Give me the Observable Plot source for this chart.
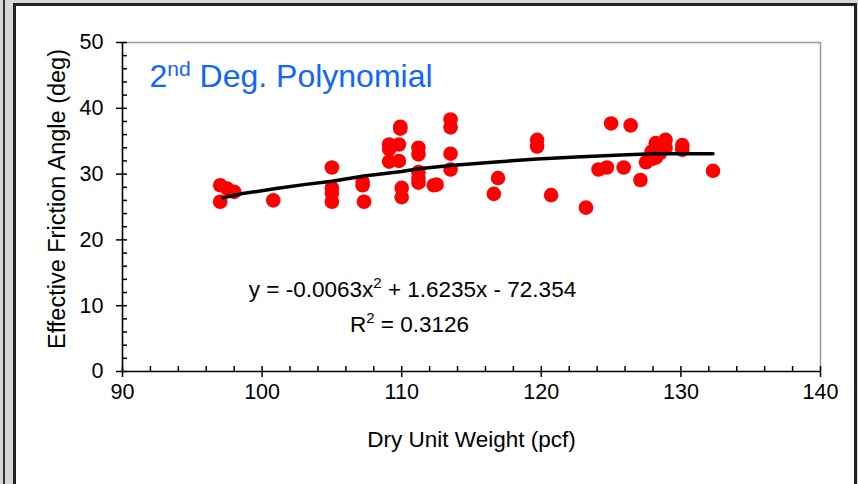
<!DOCTYPE html>
<html><head><meta charset="utf-8">
<script src="https://cdn.jsdelivr.net/npm/d3@7"></script>
<script src="https://cdn.jsdelivr.net/npm/@observablehq/plot@0.6"></script>
<style>
html,body{margin:0;padding:0;background:#fff;}
#wrap{position:relative;width:858px;height:484px;overflow:hidden;background:#d6d6d6;}
#lline{position:absolute;left:3px;top:0;width:2px;height:484px;background:#333;}
#panel{position:absolute;left:13px;top:3px;width:844px;height:500px;background:#fff;border:3px solid #222;box-sizing:border-box;}
#chart{position:absolute;left:0;top:0;}
</style>
</head><body>
<div id="wrap"><div id="lline"></div><div id="panel"></div><div id="chart"></div></div>
<script>
// Measured data: dry unit weight (pcf) vs effective friction angle (deg)
const dryUnitWeight = [97.0,97.5,98.0,97.0,100.8,105.0,105.0,105.0,105.0,107.2,107.2,107.3,
  109.1,109.1,109.8,109.9,109.9,109.1,109.8,110.0,110.0,111.2,111.2,111.2,111.2,111.2,112.3,112.5,
  113.5,113.5,113.5,113.5,116.6,116.9,119.7,119.7,120.7,123.2,124.1,124.7,125.0,125.9,126.4,127.1,
  127.5,127.9,128.2,127.9,128.5,128.2,128.9,128.9,130.1,130.1,132.3];
const frictionAngle = [28.3,27.8,27.3,25.8,26.0,31.0,27.9,27.1,25.8,28.8,28.3,25.8,
  34.5,33.8,34.5,37.2,36.9,31.9,32.0,27.9,26.5,34.0,33.0,30.3,29.4,28.7,28.3,28.4,
  38.3,37.1,33.1,30.7,27.0,29.4,35.2,34.2,26.8,24.9,30.7,31.0,37.7,31.0,37.4,29.1,
  31.8,32.3,32.5,33.4,33.2,34.7,35.2,34.0,34.4,33.7,30.5];
// Trend line
const trendX = [97.2,98.5,101,103,105,107.3,110,111.2,113.5,116.5,119.7,122.5,125.7,128,132.3];
const trendY = [26.4,27.0,27.8,28.4,28.9,29.7,30.4,30.8,31.3,31.8,32.3,32.6,32.9,33.1,33.1];
// Axes
const xMajor = [90,100,110,120,130,140];
const xMinor = [92,94,96,98,102,104,106,108,112,114,116,118,122,124,126,128,132,134,136,138];
const yMajor = [0,10,20,30,40,50];
const yMinor = [2,4,6,8,12,14,16,18,22,24,26,28,32,34,36,38,42,44,46,48];
const titleText = "2nd Deg. Polynomial";
const eqText = "y = -0.0063x2 + 1.6235x - 72.354";
const r2Text = "R2 = 0.3126";
const xLabel = "Dry Unit Weight (pcf)";
const yLabel = "Effective Friction Angle (deg)";

const points = dryUnitWeight.map((x, i) => ({x, y: frictionAngle[i]}));
const trend = trendX.map((x, i) => ({x, y: trendY[i]}));
const font = "'Liberation Sans', Arial, sans-serif";

const svg = Plot.plot({
  width: 858, height: 484,
  marginLeft: 122, marginRight: 38, marginTop: 42, marginBottom: 113,
  style: {background: "transparent", fontFamily: font, fontSize: "21px", color: "#000"},
  x: {domain: [90, 140]},
  y: {domain: [0, 50]},
  marks: [
    Plot.ruleY([50], {stroke: "#9a9a9a", strokeWidth: 1.5}),
    Plot.ruleX([140], {stroke: "#9a9a9a", strokeWidth: 1.5}),
    Plot.axisX(xMinor, {tickSize: 5, dy: -5, fill: null, label: null, strokeWidth: 1.5}),
    Plot.axisX(xMajor, {tickSize: 11, dy: -5, fill: null, label: null, strokeWidth: 1.5}),
    Plot.axisX(xMajor, {tickSize: 0, tickPadding: 12, label: null, fontSize: 21.5}),
    Plot.axisY(yMinor, {tickSize: 5, dx: 5, fill: null, label: null, strokeWidth: 1.5}),
    Plot.axisY(yMajor, {tickSize: 11, dx: 5, fill: null, label: null, strokeWidth: 1.5}),
    Plot.axisY(yMajor, {tickSize: 0, tickPadding: 19, label: null, fontSize: 21.5}),
    Plot.ruleY([0], {stroke: "#000", strokeWidth: 1.6}),
    Plot.ruleX([90], {stroke: "#000", strokeWidth: 1.6}),
    Plot.dot(points, {x: "x", y: "y", r: 7.3, fill: "#ff0000", stroke: null}),
    Plot.line(trend, {x: "x", y: "y", stroke: "#000", strokeWidth: 3.5}),
    Plot.text([titleText], {frameAnchor: "top-left", textAnchor: "start", lineAnchor: "top", dx: 27, dy: 22, fontSize: 32, fill: "#1166ff"}),
    Plot.text([eqText], {frameAnchor: "top-left", textAnchor: "middle", lineAnchor: "top", dx: 290, dy: 239, fontSize: 22.5, fill: "#000"}),
    Plot.text([r2Text], {frameAnchor: "top-left", textAnchor: "middle", lineAnchor: "top", dx: 287, dy: 274, fontSize: 22.5, fill: "#000"}),
    Plot.text([xLabel], {frameAnchor: "bottom", textAnchor: "middle", dy: 75, fontSize: 22.5, fill: "#000"}),
    Plot.text([yLabel], {frameAnchor: "left", textAnchor: "middle", rotate: -90, dx: -65, dy: -8, fontSize: 23.5, fill: "#000"})
  ]
});

// superscripts as real tspans
const NS = "http://www.w3.org/2000/svg";
function setRich(t, parts) {
  while (t.firstChild) t.removeChild(t.firstChild);
  for (const p of parts) {
    const ts = document.createElementNS(NS, "tspan");
    ts.textContent = p.s;
    if (p.dy) ts.setAttribute("dy", p.dy);
    if (p.fs) ts.setAttribute("font-size", p.fs);
    t.appendChild(ts);
  }
}
svg.querySelectorAll("text").forEach(t => {
  const s = t.textContent;
  if (s === titleText) setRich(t, [{s: "2"}, {s: "nd", dy: -11, fs: 21}, {s: " Deg. Polynomial", dy: 11}]);
  else if (s === eqText) setRich(t, [{s: "y = -0.0063x"}, {s: "2", dy: -9, fs: 15}, {s: " + 1.6235x - 72.354", dy: 9}]);
  else if (s === r2Text) setRich(t, [{s: "R"}, {s: "2", dy: -9, fs: 15}, {s: " = 0.3126", dy: 9}]);
});
document.getElementById("chart").appendChild(svg);
</script>
</body></html>
